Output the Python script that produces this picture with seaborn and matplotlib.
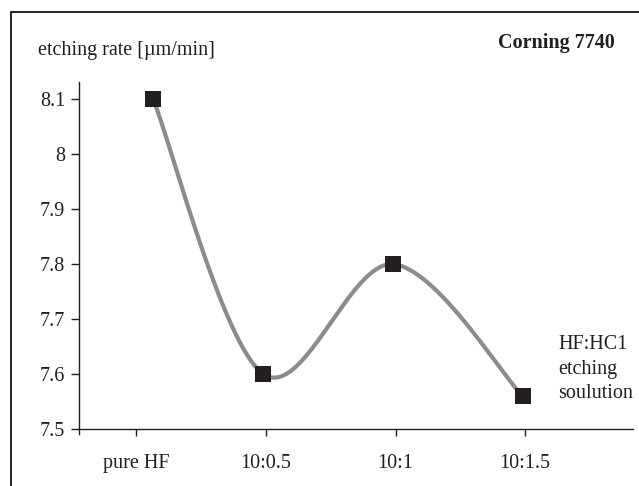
import numpy as np
import pandas as pd
import matplotlib
matplotlib.use("Agg")
import matplotlib.pyplot as plt
import matplotlib.patches as mpatches
import seaborn as sns

# ---- data ----
categories = ["pure HF", "10:0.5", "10:1", "10:1.5"]
tick_pos = [0, 1, 2, 3]
x_pos = [0.13, 0.98, 1.98, 2.98]
etch_rate = [8.1, 7.6, 7.8, 7.56]
y_ticks = [7.5, 7.6, 7.7, 7.8, 7.9, 8.0, 8.1]
y_tick_labels = ["7.5", "7.6", "7.7", "7.8", "7.9", "8", "8.1"]

sns.set_theme(style="white")
plt.rcParams["font.family"] = ["Liberation Serif", "DejaVu Serif"]
txt = "#231f20"
fs = 14.5

def smooth_curve(xs, ys, n=60):
    # Catmull-Rom style Bezier smoothing (as in spreadsheet "smoothed line")
    P = np.column_stack([xs, ys]).astype(float)
    m = len(P)
    out = []
    for i in range(m - 1):
        p0 = P[i - 1] if i > 0 else P[i]
        p1 = P[i]
        p2 = P[i + 1]
        p3 = P[i + 2] if i + 2 < m else P[i + 1]
        c1 = p1 + (p2 - p0) / 6.0
        c2 = p2 - (p3 - p1) / 6.0
        t = np.linspace(0, 1, n)[:, None]
        seg = ((1 - t) ** 3) * p1 + 3 * ((1 - t) ** 2) * t * c1 + 3 * (1 - t) * t ** 2 * c2 + t ** 3 * p2
        out.append(seg if i == 0 else seg[1:])
    s = np.vstack(out)
    return s[:, 0], s[:, 1]

fig = plt.figure(figsize=(6.39, 4.86), dpi=100)
ax = fig.add_axes([79 / 639, (486 - 434) / 486, (633 - 79) / 639, (434 - 82) / 486])

sx, sy = smooth_curve(x_pos, etch_rate)
curve = pd.DataFrame({"x": sx, "y": sy})
sns.lineplot(data=curve, x="x", y="y", sort=False, estimator=None, ax=ax,
             color="#8c8c8c", linewidth=3.0, zorder=2)
pts = pd.DataFrame({"x": x_pos, "y": etch_rate})
sns.scatterplot(data=pts, x="x", y="y", marker="s", s=140, color="#231f20",
                edgecolor="#231f20", linewidth=0, ax=ax, zorder=3)

ax.set_xlim(-0.443, 3.832)
ax.set_ylim(7.491, 8.1315)
ax.set_xticks(tick_pos)
ax.set_xticklabels(categories)
ax.set_yticks(y_ticks)
ax.set_yticklabels(y_tick_labels)
ax.set_xlabel("")
ax.set_ylabel("")

for s in ["top", "right"]:
    ax.spines[s].set_visible(False)
ax.spines["bottom"].set_position(("data", 7.5))
for s in ["left", "bottom"]:
    ax.spines[s].set_color(txt)
    ax.spines[s].set_linewidth(1.0)

ax.tick_params(axis="y", direction="out", length=6, width=1.0, color=txt,
               labelsize=fs, labelcolor=txt, pad=4, left=True)
ax.tick_params(axis="x", direction="out", length=5, width=1.0, color=txt,
               labelsize=fs, labelcolor=txt, pad=13, bottom=True)

fig.text(38 / 639, 1 - 50 / 486, "etching rate [µm/min]", fontsize=fs,
         color=txt, ha="left", va="center")
fig.text(615 / 639, 1 - 43 / 486, "Corning 7740", fontsize=fs, fontweight="bold",
         color=txt, ha="right", va="center")
fig.text(558 / 639, 1 - 369 / 486, "HF:HC1\netching\nsoulution", fontsize=fs,
         color=txt, ha="left", va="center", linespacing=1.4)

frame = mpatches.Rectangle((11 / 639, -0.2), 1.2, 0.2 + (486 - 12) / 486,
                           transform=fig.transFigure, fill=False,
                           edgecolor="#111111", linewidth=1.3)
fig.add_artist(frame)

fig.savefig("out.png", dpi=100)
